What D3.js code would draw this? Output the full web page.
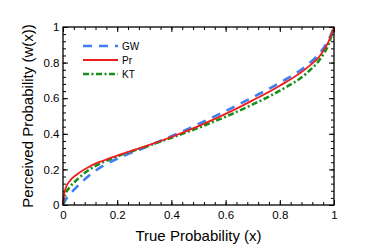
<!DOCTYPE html>
<html>
<head>
<meta charset="utf-8">
<script src="https://cdn.jsdelivr.net/npm/d3@7"></script>
<style>
  html, body { margin: 0; padding: 0; background: #fff; }
  svg text { font-family: "Liberation Sans", Arial, Helvetica, sans-serif; fill: #000; }
  .axis path { display: none; }
  .axis line { stroke: #000; stroke-width: 1; }
</style>
</head>
<body>
<div id="chart"></div>
<script>
(function(d3) {
  'use strict';

  // values
  var xs  = [0, 0.005, 0.01, 0.025, 0.05, 0.1, 0.15, 0.2, 0.3, 0.4, 0.5, 0.6, 0.7, 0.8, 0.9, 0.95, 0.98, 1];
  var gw  = [0, 0.015, 0.03, 0.06, 0.1, 0.17, 0.222, 0.26, 0.322, 0.386, 0.455, 0.528, 0.605, 0.687, 0.785, 0.858, 0.928, 1];
  var pr  = [0, 0.065, 0.095, 0.135, 0.17, 0.218, 0.25, 0.277, 0.328, 0.382, 0.443, 0.512, 0.588, 0.67, 0.77, 0.843, 0.918, 1];
  var kt  = [0, 0.04, 0.065, 0.1, 0.14, 0.202, 0.242, 0.273, 0.325, 0.378, 0.434, 0.496, 0.565, 0.642, 0.742, 0.823, 0.903, 1];
  var seriesNames = ['GW', 'Pr', 'KT'];
  var majorTicks = [0, 0.2, 0.4, 0.6, 0.8, 1];
  var tickLabels = ['0', '0.2', '0.4', '0.6', '0.8', '1'];

  var styles = {
    'GW': { color: '#3f7ff2', dash: '9,7', width: 2.6 },
    'Pr': { color: '#ee1c1c', dash: null, width: 1.8 },
    'KT': { color: '#16901a', dash: '6,2.5,2,2.5', width: 2.6 }
  };

  var width = 382, height = 245;
  var margin = { top: 27, right: 48, bottom: 40, left: 63 };
  var plotW = width - margin.left - margin.right;
  var plotH = height - margin.top - margin.bottom;

  var svg = d3.select('#chart').append('svg')
    .attr('width', width)
    .attr('height', height);

  var g = svg.append('g')
    .attr('transform', 'translate(' + margin.left + ',' + margin.top + ')');

  var x = d3.scaleLinear().domain([0, 1]).range([0, plotW]);
  var y = d3.scaleLinear().domain([0, 1]).range([plotH, 0]);

  var minorTicks = d3.range(0, 1.0001, 0.04);
  var fmt = function(d, i) { return tickLabels[i]; };

  // minor ticks, all four sides, pointing inward
  g.append('g').attr('class', 'axis').attr('transform', 'translate(0,' + plotH + ')')
    .call(d3.axisBottom(x).tickValues(minorTicks).tickSize(-3).tickFormat(''));
  g.append('g').attr('class', 'axis')
    .call(d3.axisTop(x).tickValues(minorTicks).tickSize(-3).tickFormat(''));
  g.append('g').attr('class', 'axis')
    .call(d3.axisLeft(y).tickValues(minorTicks).tickSize(-3).tickFormat(''));
  g.append('g').attr('class', 'axis').attr('transform', 'translate(' + plotW + ',0)')
    .call(d3.axisRight(y).tickValues(minorTicks).tickSize(-3).tickFormat(''));

  // major ticks
  var xAxis = g.append('g').attr('class', 'axis').attr('transform', 'translate(0,' + plotH + ')')
    .call(d3.axisBottom(x).tickValues(majorTicks).tickSize(-5).tickPadding(6).tickFormat(fmt));
  var yAxis = g.append('g').attr('class', 'axis')
    .call(d3.axisLeft(y).tickValues(majorTicks).tickSize(-5).tickPadding(4).tickFormat(fmt));
  g.append('g').attr('class', 'axis')
    .call(d3.axisTop(x).tickValues(majorTicks).tickSize(-5).tickFormat(''));
  g.append('g').attr('class', 'axis').attr('transform', 'translate(' + plotW + ',0)')
    .call(d3.axisRight(y).tickValues(majorTicks).tickSize(-5).tickFormat(''));

  xAxis.selectAll('text').attr('font-size', 11.5).attr('dy', '0.71em');
  yAxis.selectAll('text').attr('font-size', 11.5).attr('x', -3.5);

  // curves
  var line = d3.line()
    .x(function(d) { return x(d[0]); })
    .y(function(d) { return y(d[1]); })
    .curve(d3.curveMonotoneX);

  var seriesData = { 'GW': gw, 'Pr': pr, 'KT': kt };
  var drawOrder = ['GW', 'KT', 'Pr'];

  drawOrder.forEach(function(name) {
    var vals = seriesData[name];
    var st = styles[name];
    g.append('path')
      .datum(xs.map(function(v, i) { return [v, vals[i]]; }))
      .attr('d', line)
      .attr('fill', 'none')
      .attr('stroke', st.color)
      .attr('stroke-width', st.width)
      .attr('stroke-dasharray', st.dash);
  });

  // frame
  g.append('rect')
    .attr('width', plotW)
    .attr('height', plotH)
    .attr('fill', 'none')
    .attr('stroke', '#000')
    .attr('stroke-width', 1.3);

  // legend
  var legend = g.append('g').attr('transform', 'translate(20,19)');
  seriesNames.forEach(function(name, i) {
    var st = styles[name];
    var row = legend.append('g').attr('transform', 'translate(0,' + (i * 14) + ')');
    row.append('line')
      .attr('x1', 0).attr('x2', 35)
      .attr('stroke', st.color)
      .attr('stroke-width', st.width)
      .attr('stroke-dasharray', st.dash);
    row.append('text')
      .attr('x', 39)
      .attr('dy', '0.35em')
      .attr('font-size', 10)
      .text(name);
  });

  // axis titles
  g.append('text')
    .attr('x', plotW / 2)
    .attr('y', plotH + 36)
    .attr('text-anchor', 'middle')
    .attr('font-size', 15)
    .text('True Probability (x)');

  g.append('text')
    .attr('transform', 'translate(' + (-30) + ',' + (plotH / 2) + ') rotate(-90)')
    .attr('text-anchor', 'middle')
    .attr('font-size', 15)
    .text('Perceived Probability (w(x))');

}(d3));
</script>
</body>
</html>
